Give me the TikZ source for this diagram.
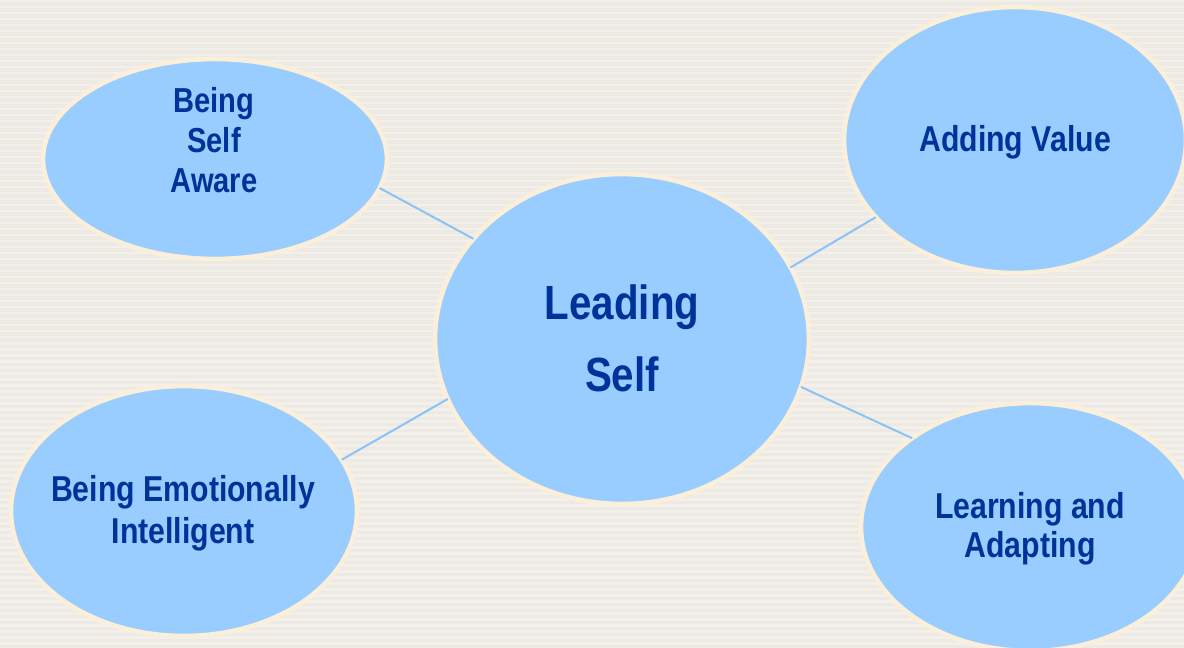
\documentclass[tikz,border=0pt]{standalone}
\usepackage{fontspec}
\usepackage{xcolor}
\usepackage{tikz}
\usetikzlibrary{shapes.geometric}

\newfontfamily\bubblefont[FakeStretch=0.84]{Liberation Sans}
\definecolor{bubblefill}{RGB}{153,204,255}
\definecolor{rimcream}{RGB}{250,239,218}
\definecolor{inkblue}{RGB}{0,51,153}
\definecolor{spokeblue}{RGB}{140,194,244}
\definecolor{paper}{RGB}{237,233,227}
\definecolor{paperlight}{RGB}{243,240,235}
\def\px{0.75pt}

\begin{document}
\begin{tikzpicture}[x=0.75pt, y=-0.75pt,
        bubble/.style={ellipse, draw=rimcream, line width=3.5pt, fill=bubblefill, inner sep=0pt, outer sep=0pt},
        txt/.style={align=center, text=inkblue, inner sep=0pt, anchor=base,
            font=\bubblefont\bfseries\fontsize{26pt}{30pt}\selectfont},
        spoke/.style={draw=spokeblue, line width=1.5pt},
    ]
    % Paper with faint stripes
    \useasboundingbox (0,0) rectangle (1184,648);
    \clip (0,0) rectangle (1184,648);
    \fill[paper] (0,0) rectangle (1184,648);
    \foreach \y in {0,6,...,642}
        \fill[paperlight] (0,\y) rectangle (1184,\y+2.5);

    % Hub
    \node[bubble, minimum width=374*\px, minimum height=330*\px] (lead) at (622,339) {};

    % Satellites
    \node[bubble, minimum width=344*\px, minimum height=200*\px] (aware) at (215,159) {};
    \node[bubble, minimum width=342*\px, minimum height=266*\px] (value) at (1015,140) {};
    \node[bubble, minimum width=346*\px, minimum height=250*\px] (emot) at (184,511) {};
    \node[bubble, minimum width=338*\px, minimum height=248*\px] (learn) at (1030,527) {};

    % Texts (anchored on the last baseline)
    \node[txt, font=\bubblefont\bfseries\fontsize{36pt}{54pt}\selectfont] (lead-t) at (622,391) {Leading\\Self};
    \node[txt] (aware-t) at (214,193) {Being\\Self\\Aware};
    \node[txt, font=\bubblefont\bfseries\fontsize{27pt}{30pt}\selectfont] (value-t) at (1015,152) {Adding Value};
    \node[txt, font=\bubblefont\bfseries\fontsize{27pt}{31pt}\selectfont] (emot-t) at (183,543) {Being Emotionally\\Intelligent};
    \node[txt, font=\bubblefont\bfseries\fontsize{27pt}{29pt}\selectfont] (learn-t) at (1030,557) {Learning and\\Adapting};

    % Spokes
    \draw[spoke] (aware.-10) -- (lead.146);
    \draw[spoke] (value.209) -- (lead.23);
    \draw[spoke] (emot.18) -- (lead.199);
    \draw[spoke] (learn.143) -- (lead.345);

\end{tikzpicture}
\end{document}
